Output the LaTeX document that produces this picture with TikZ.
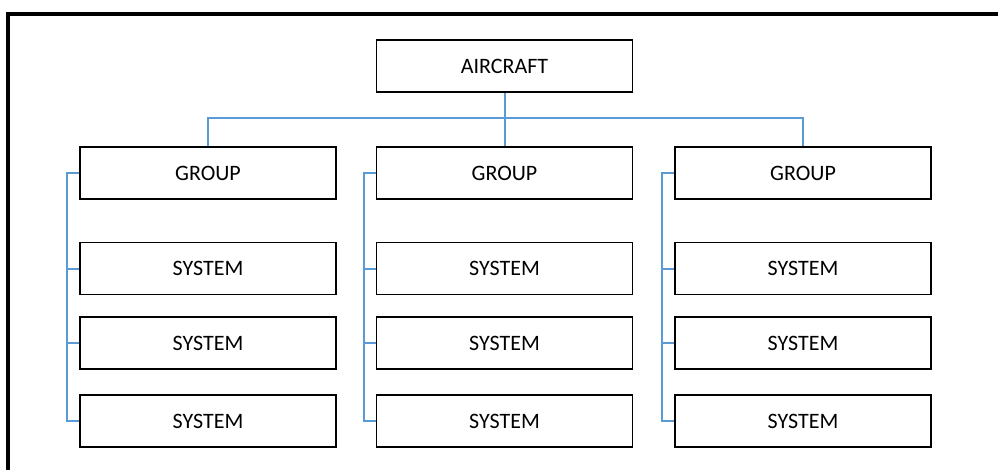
\documentclass[tikz,border=0pt]{standalone}
\usepackage{fontspec}
\setmainfont{Carlito}
\definecolor{linkblue}{RGB}{91,155,213}
\tikzset{
  unitbox/.style={draw=black, line width=1.4pt, minimum width=192pt, minimum height=39pt,
    inner sep=0pt, font=\fontsize{16.5}{20}\selectfont},
  link/.style={linkblue, line width=1.5pt}
}
\begin{document}
\begin{tikzpicture}[x=0.75pt,y=-0.75pt]
    \useasboundingbox (0,0) rectangle (998,470);
    % 外框
    \draw[line width=3pt] (8,472) -- (8,14) -- (1000,14);

    % 顶层
    \node[unitbox] (air) at (504.5,66) {AIRCRAFT};

    % 三个分组及其系统
    \foreach \c/\x in {1/208, 2/504.5, 3/803} {
        \node[unitbox] (g\c) at (\x,173) {GROUP};
        \node[unitbox] (s\c a) at (\x,268.5) {SYSTEM};
        \node[unitbox] (s\c b) at (\x,343) {SYSTEM};
        \node[unitbox] (s\c c) at (\x,421) {SYSTEM};
        % 左侧竖线
        \draw[link] (g\c.west) -- ++(-12,0) |- (s\c c.west);
        \draw[link] (s\c a.west) -- ++(-12,0);
        \draw[link] (s\c b.west) -- ++(-12,0);
    }

    % 顶层到分组
    \draw[link] (air.south) -- (g2.north);
    \draw[link] (g1.north) -- ++(0,-28) -| (g3.north);
\end{tikzpicture}
\end{document}
